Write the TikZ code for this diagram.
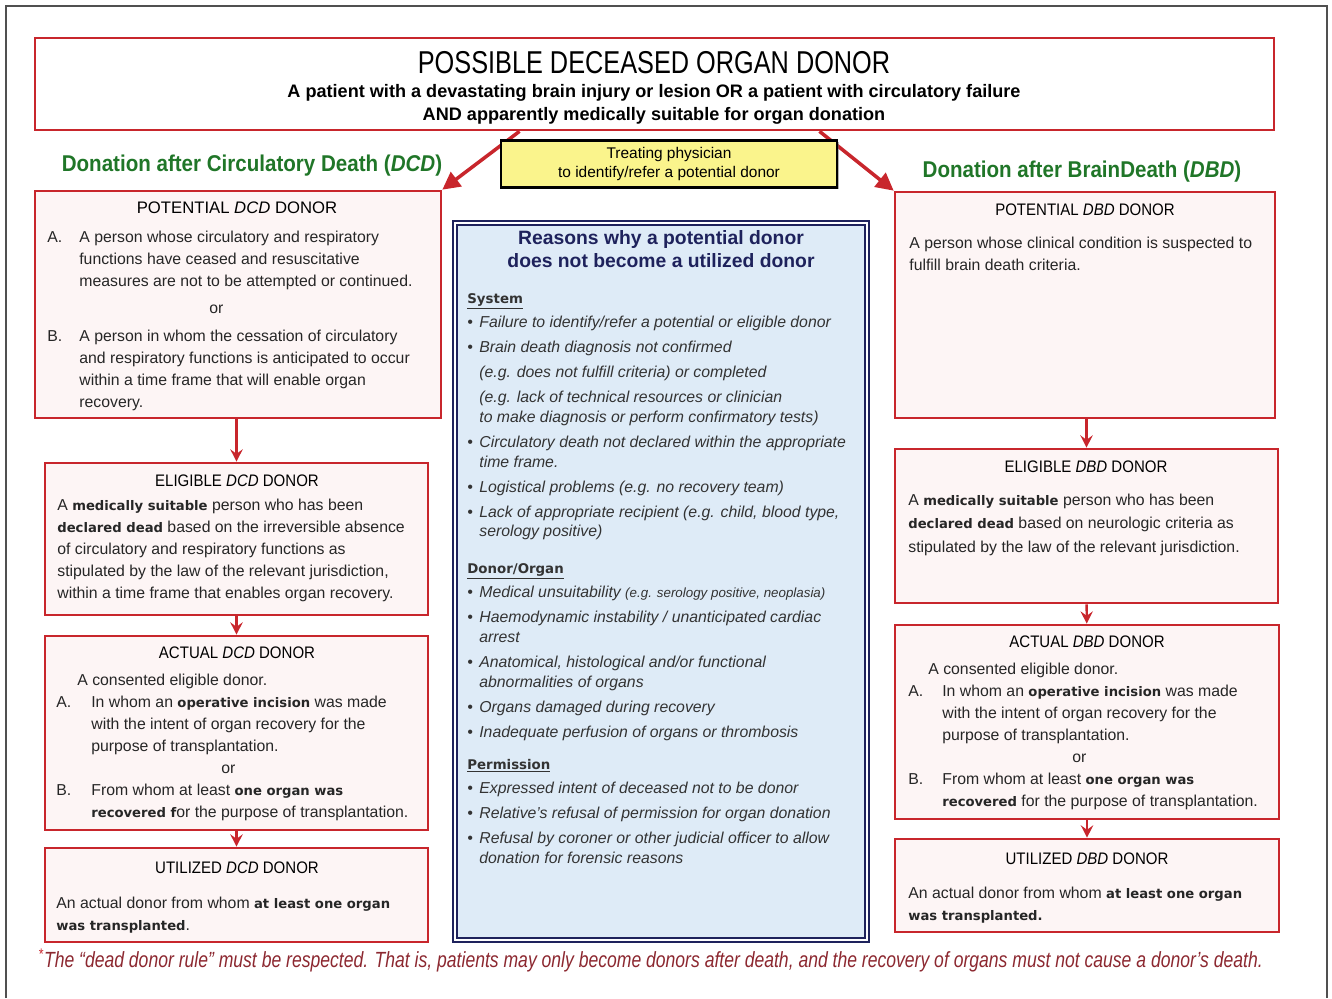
\documentclass[tikz,border=0pt]{standalone}
\usepackage{fontspec}
\setmainfont{Liberation Sans}
\newfontfamily\headfont[FakeStretch=0.9]{Liberation Sans}
\newfontfamily\narrowfont[FakeStretch=0.8]{Liberation Sans}
\newfontfamily\widefont{DejaVu Sans}
\usetikzlibrary{arrows.meta,positioning,fit,shadows}

\definecolor{donorred}{RGB}{200,38,44}
\definecolor{donorpink}{RGB}{253,245,245}
\definecolor{dcdgreen}{RGB}{32,118,40}
\definecolor{reasonnavy}{RGB}{30,34,92}
\definecolor{reasonblue}{RGB}{222,235,247}
\definecolor{physyellow}{RGB}{250,244,140}
\definecolor{notered}{RGB}{140,40,48}
\definecolor{framegray}{RGB}{80,80,80}

\newcommand{\boldphrase}[1]{{\widefont\bfseries\fontsize{7.5}{12.6}\selectfont #1}}
\newcommand{\sechead}[1]{\underline{\widefont\bfseries\upshape\fontsize{7.6}{11.2}\selectfont #1}}
\newcommand{\rbul}{\makebox[0.24cm][l]{\textbullet}}
\newcommand{\rind}{\hspace*{0.24cm}}

\begin{document}
\begin{tikzpicture}[x=0.02cm, y=-0.02cm,
    donorbox/.style={draw=donorred, line width=1.5pt, fill=donorpink, inner sep=0pt},
    reasonbox/.style={draw=reasonnavy, double=white, double distance=1pt, line width=1.3pt, fill=reasonblue, inner sep=0pt},
    physbox/.style={draw=black, line width=1.3pt, fill=physyellow, inner sep=0pt, minimum width=6.72cm, minimum height=0.94cm,
      font=\fontsize{8.8}{11.3}\selectfont, drop shadow={shadow xshift=1pt, shadow yshift=-1pt, fill=black!60}},
    boxhead/.style={anchor=base, inner sep=0pt, font=\headfont\fontsize{9.5}{11}\selectfont},
    boxtext/.style={anchor=base west, inner sep=0pt, font=\fontsize{9}{12.6}\selectfont, text=black!85},
    reason/.style={anchor=base west, inner sep=0pt, font=\fontsize{9}{11.2}\selectfont\itshape, text=black!80},
    branch/.style={anchor=base, inner sep=0pt, font=\headfont\bfseries\fontsize{13}{15}\selectfont, text=dcdgreen},
    flow/.style={draw=donorred, line width=1.4pt, -{Stealth[length=7pt, width=7pt, inset=2.5pt]}},
    split/.style={draw=donorred, line width=2pt, -{Triangle[length=10pt, width=10pt]}}]

  \useasboundingbox (0,0) rectangle (1332,998);
  \draw[framegray, line width=0.8pt] (6,998) -- (6,6) -- (1327,6) -- (1327,998);

  % boxes
  \node[donorbox, fill=white, fit={(35,38) (1274,130)}] (title) {};
  \node[donorbox, fit={(35,191) (441,418)}] (potdcd) {};
  \node[donorbox, fit={(45,463) (428,615)}] (elidcd) {};
  \node[donorbox, fit={(45,636) (428,830)}] (actdcd) {};
  \node[donorbox, fit={(45,848) (428,942)}] (utildcd) {};
  \node[donorbox, fit={(895,192) (1275,418)}] (potdbd) {};
  \node[donorbox, fit={(895,449) (1278,603)}] (elidbd) {};
  \node[donorbox, fit={(895,625) (1279,819)}] (actdbd) {};
  \node[donorbox, fit={(895,839) (1279,932)}] (utildbd) {};
  \node[reasonbox, fit={(455,223) (867,940)}] (reasons) {};

  % arrows
  \draw[split] ([xshift=-2.7cm]title.south) -- (potdcd.north east);
  \draw[split] ([xshift=3.3cm]title.south) -- (potdbd.north west);
  \draw[flow] (potdcd.south -| elidcd.north) -- (elidcd.north);
  \draw[flow] (elidcd) -- (actdcd);
  \draw[flow] (actdcd) -- (utildcd);
  \draw[flow] (potdbd.south -| elidbd.north) -- (elidbd.north);
  \draw[flow] (elidbd) -- (actdbd);
  \draw[flow] (actdbd) -- (utildbd);

  \node[physbox] (physician) at (669,164)
    {\begin{tabular}{@{}c@{}}Treating physician\\to identify/refer a potential donor\end{tabular}};

  % title
  \node[anchor=base, inner sep=0pt, font=\narrowfont\fontsize{18}{20}\selectfont] (titlemain) at (654,73) {POSSIBLE DECEASED ORGAN DONOR};
  \node[anchor=base, inner sep=0pt, font=\bfseries\fontsize{10.3}{13.6}\selectfont] (titlesub) at (654,97)
    {\begin{tabular}[t]{@{}c@{}}
     A patient with a devastating brain injury or lesion OR a patient with circulatory failure\\
     AND apparently medically suitable for organ donation
     \end{tabular}};
  \node[branch] (dcdlabel) at (252,171) {Donation after Circulatory Death (\textit{DCD})};
  \node[branch] (dbdlabel) at (1082,177) {Donation after BrainDeath (\textit{DBD})};

  % DCD column
  \node[boxhead, font=\fontsize{9.5}{11}\selectfont] (potdcdhead) at (237,213) {POTENTIAL \textit{DCD} DONOR};
  \node[boxtext] (potdcdtext) at (47,242) {\begin{tabular}[t]{@{}p{0.64cm}@{}l@{}}
    A. & A person whose circulatory and respiratory\\
       & functions have ceased and resuscitative\\
       & measures are not to be attempted or continued.\\[3pt]
       & \hspace{2.6cm}or\\[3pt]
    B. & A person in whom the cessation of circulatory\\
       & and respiratory functions is anticipated to occur\\
       & within a time frame that will enable organ\\
       & recovery.
  \end{tabular}};

  \node[boxhead] (elidcdhead) at (237,486) {ELIGIBLE \textit{DCD} DONOR};
  \node[boxtext] (elidcdtext) at (57,510) {\begin{tabular}[t]{@{}l@{}}
    A \boldphrase{medically suitable} person who has been\\
    \boldphrase{declared dead} based on the irreversible absence\\
    of circulatory and respiratory functions as\\
    stipulated by the law of the relevant jurisdiction,\\
    within a time frame that enables organ recovery.
  \end{tabular}};

  \node[boxhead] (actdcdhead) at (237,658) {ACTUAL \textit{DCD} DONOR};
  \node[boxtext] (actdcdtext) at (56,685) {\begin{tabular}[t]{@{}p{0.7cm}@{}l@{}}
    \multicolumn{2}{@{}l@{}}{\hspace{0.42cm}A consented eligible donor.}\\
    A. & In whom an \boldphrase{operative incision} was made\\
       & with the intent of organ recovery for the\\
       & purpose of transplantation.\\
       & \hspace{2.6cm}or\\
    B. & From whom at least \boldphrase{one organ was}\\
       & \boldphrase{recovered f}or the purpose of transplantation.
  \end{tabular}};

  \node[boxhead] (utildcdhead) at (237,873) {UTILIZED \textit{DCD} DONOR};
  \node[boxtext] (utildcdtext) at (56,908) {\begin{tabular}[t]{@{}l@{}}
    An actual donor from whom \boldphrase{at least one organ}\\
    \boldphrase{was transplanted}.
  \end{tabular}};

  % DBD column
  \node[boxhead] (potdbdhead) at (1085,215) {POTENTIAL \textit{DBD} DONOR};
  \node[boxtext] (potdbdtext) at (909,248) {\begin{tabular}[t]{@{}l@{}}
    A person whose clinical condition is suspected to\\
    fulfill brain death criteria.
  \end{tabular}};

  \node[boxhead] (elidbdhead) at (1086,472) {ELIGIBLE \textit{DBD} DONOR};
  \node[boxtext, font=\fontsize{9}{13.5}\selectfont] (elidbdtext) at (908,505) {\begin{tabular}[t]{@{}l@{}}
    A \boldphrase{medically suitable} person who has been\\
    \boldphrase{declared dead} based on neurologic criteria as\\
    stipulated by the law of the relevant jurisdiction.
  \end{tabular}};

  \node[boxhead] (actdbdhead) at (1087,647) {ACTUAL \textit{DBD} DONOR};
  \node[boxtext] (actdbdtext) at (908,674) {\begin{tabular}[t]{@{}p{0.68cm}@{}l@{}}
    \multicolumn{2}{@{}l@{}}{\hspace{0.4cm}A consented eligible donor.}\\
    A. & In whom an \boldphrase{operative incision} was made\\
       & with the intent of organ recovery for the\\
       & purpose of transplantation.\\
       & \hspace{2.6cm}or\\
    B. & From whom at least \boldphrase{one organ was}\\
       & \boldphrase{recovered} for the purpose of transplantation.
  \end{tabular}};

  \node[boxhead] (utildbdhead) at (1087,864) {UTILIZED \textit{DBD} DONOR};
  \node[boxtext] (utildbdtext) at (908,898) {\begin{tabular}[t]{@{}l@{}}
    An actual donor from whom \boldphrase{at least one organ}\\
    \boldphrase{was transplanted.}
  \end{tabular}};

  % reasons
  \node[anchor=base, inner sep=0pt, text=reasonnavy, font=\bfseries\fontsize{11}{13.6}\selectfont] (reasonhead) at (661,244)
    {\begin{tabular}[t]{@{}c@{}}Reasons why a potential donor\\does not become a utilized donor\end{tabular}};
  \node[reason] (system) at (467,303) {\begin{tabular}[t]{@{}l@{}}
    \sechead{System}\\[3pt]
    \rbul Failure to identify/refer a potential or eligible donor\\[3pt]
    \rbul Brain death diagnosis not confirmed\\[3pt]
    \rind (e.g. does not fulfill criteria) or completed\\[3pt]
    \rind (e.g. lack of technical resources or clinician\\
    \rind to make diagnosis or perform confirmatory tests)\\[3pt]
    \rbul Circulatory death not declared within the appropriate\\
    \rind time frame.\\[3pt]
    \rbul Logistical problems (e.g. no recovery team)\\[3pt]
    \rbul Lack of appropriate recipient (e.g. child, blood type,\\
    \rind serology positive)
  \end{tabular}};
  \node[reason] (organ) at (467,573) {\begin{tabular}[t]{@{}l@{}}
    \sechead{Donor/Organ}\\[3pt]
    \rbul Medical unsuitability {\fontsize{7.6}{11.2}\selectfont(e.g. serology positive, neoplasia)}\\[3pt]
    \rbul Haemodynamic instability / unanticipated cardiac\\
    \rind arrest\\[3pt]
    \rbul Anatomical, histological and/or functional\\
    \rind abnormalities of organs\\[3pt]
    \rbul Organs damaged during recovery\\[3pt]
    \rbul Inadequate perfusion of organs or thrombosis
  \end{tabular}};
  \node[reason] (permission) at (467,769) {\begin{tabular}[t]{@{}l@{}}
    \sechead{Permission}\\[3pt]
    \rbul Expressed intent of deceased not to be donor\\[3pt]
    \rbul Relative’s refusal of permission for organ donation\\[3pt]
    \rbul Refusal by coroner or other judicial officer to allow\\
    \rind donation for forensic reasons
  \end{tabular}};

  % footnote
  \node[anchor=base west, inner sep=0pt, text=notered, font=\narrowfont\itshape\fontsize{12.5}{13}\selectfont] (footnote) at (38,967)
    {\textcolor{donorred}{\textsuperscript{*}}The “dead donor rule” must be respected. That is, patients may only become donors after death, and the recovery of organs must not cause a donor’s death.};
\end{tikzpicture}
\end{document}
